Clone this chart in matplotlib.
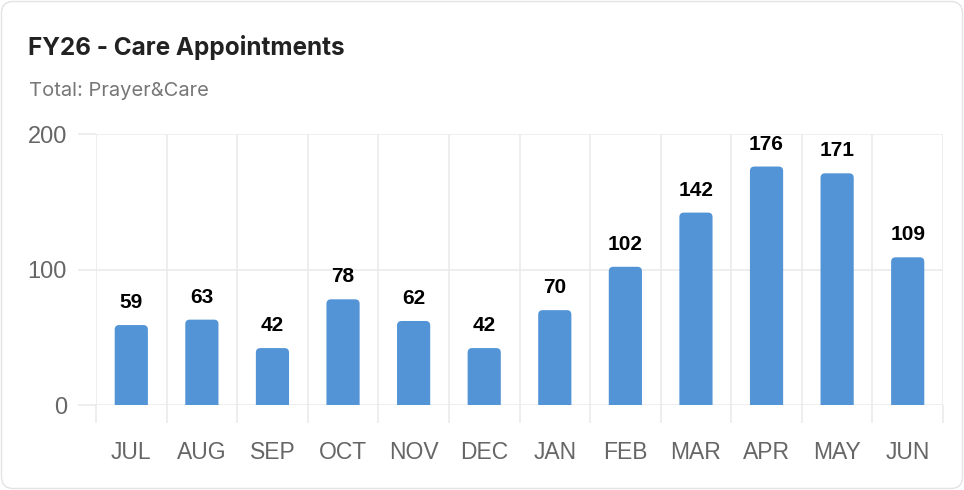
import matplotlib
matplotlib.use("Agg")
import matplotlib.pyplot as plt
from matplotlib.patches import FancyBboxPatch
import numpy as np

months = ["JUL", "AUG", "SEP", "OCT", "NOV", "DEC", "JAN", "FEB", "MAR", "APR", "MAY", "JUN"]
values = [59, 63, 42, 78, 62, 42, 70, 102, 142, 176, 171, 109]
y_ticks = [0, 100, 200]

title = "FY26 - Care Appointments"
subtitle = "Total: Prayer&Care"

W, H, DPI = 964, 490, 100
fig = plt.figure(figsize=(W / DPI, H / DPI), dpi=DPI)
fig.patch.set_facecolor("white")

# card border
card = FancyBboxPatch((1.5 / W, 1.5 / H), 1 - 3 / W, 1 - 3 / H,
                      boxstyle="round,pad=0,rounding_size=0.012",
                      transform=fig.transFigure, facecolor="white",
                      edgecolor="#e3e3e3", linewidth=1.0,
                      mutation_aspect=W / H, zorder=-10)
fig.patches.append(card)

left, right, top, bottom = 96, 943, 134, 405
ax = fig.add_axes([left / W, 1 - bottom / H, (right - left) / W, (bottom - top) / H])
ax.set_zorder(1)
ax.set_facecolor("none")

grid_c = "#ebebeb"
x = np.arange(len(months)) + 0.5
bars = ax.bar(x, values, width=0.47, color="#5294D6")
ax.set_xlim(0, len(months))
ax.set_ylim(0, 200)

# rounded top corners
px_x = (right - left) / len(months)
px_y = (bottom - top) / 200
r_px = 4.5
for b in bars:
    bx, bw, bh = b.get_x(), b.get_width(), b.get_height()
    b.set_visible(False)
    p = FancyBboxPatch((bx, -10), bw, bh + 10,
                       boxstyle=f"round,pad=0,rounding_size={r_px / px_x}",
                       mutation_aspect=px_x / px_y,
                       facecolor="#5294D6", edgecolor="none", zorder=2,
                       clip_on=True)
    ax.add_patch(p)
    p.set_clip_path(ax.patch)

for xi, v in zip(x, values):
    ax.annotate(str(v), (xi, v), xytext=(0, 13 * 72 / DPI), textcoords="offset points",
                ha="center", va="bottom", fontsize=15, fontweight="bold",
                color="#000000", family="Liberation Sans")

for s in ax.spines.values():
    s.set_visible(False)

ax.set_xticks(np.arange(len(months) + 1))
ax.set_xticklabels([])
ax.set_xticks(x, minor=True)
ax.set_xticklabels(months, minor=True)
ax.set_yticks(y_ticks)
ax.set_yticklabels([str(t) for t in y_ticks])

tick_len = 18 * 72 / DPI
ax.tick_params(axis="x", which="major", length=tick_len, color=grid_c, width=1.2)
ax.tick_params(axis="x", which="minor", length=0, pad=26, labelsize=16.5,
               labelcolor="#666666")
ax.tick_params(axis="y", which="major", length=tick_len, color=grid_c, width=1.2,
               pad=8, labelsize=17, labelcolor="#666666")
for lab in ax.get_xticklabels(minor=True) + ax.get_yticklabels():
    lab.set_family("Liberation Sans")

ax.grid(True, which="major", color=grid_c, linewidth=1.2, zorder=0)
ax.set_axisbelow(True)

fig.text(28 / W, 1 - 54.5 / H, title, fontsize=17.5, fontweight="bold",
         color="#222222", family="Inter", ha="left", va="baseline")
fig.text(29 / W, 1 - 96.5 / H, subtitle, fontsize=14.5, color="#777777",
         family="Inter", ha="left", va="baseline")

fig.savefig("out.png", dpi=DPI)
